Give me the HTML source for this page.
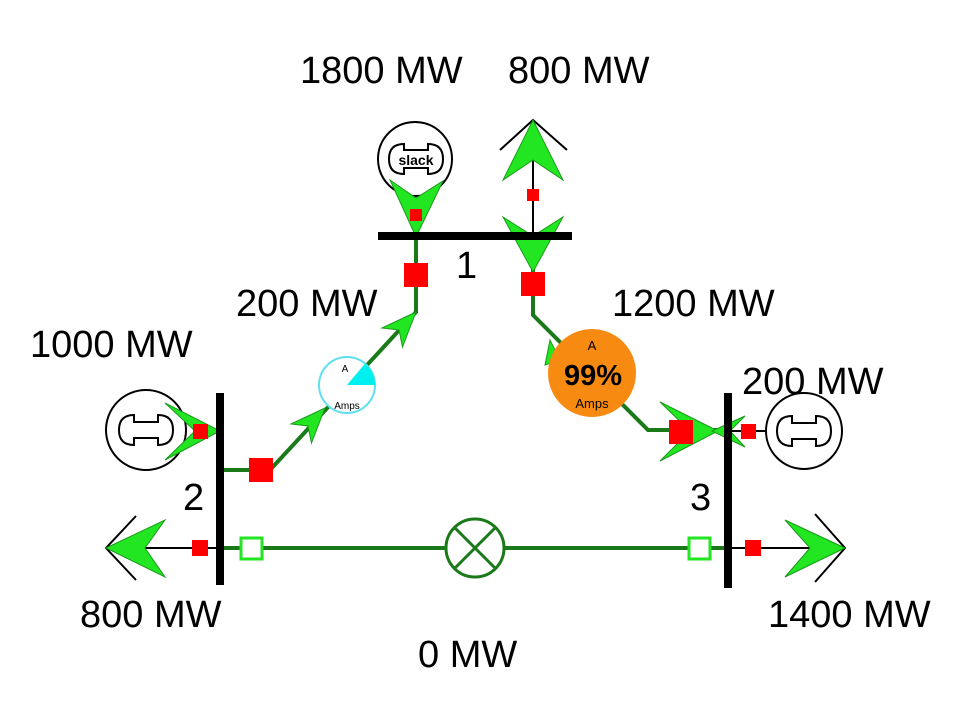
<!DOCTYPE html>
<html><head><meta charset="utf-8"><style>
html,body{margin:0;padding:0;background:#fff;}
svg{display:block;}
text{font-family:"Liberation Sans",sans-serif;}
</style></head><body>
<svg width="972" height="703" viewBox="0 0 972 703" xmlns="http://www.w3.org/2000/svg">
<defs>
<path id="gsym" d="M -12,-15 Q -27,-15 -27,0 Q -27,15 -12,15 L -12,8 L 12,8 L 12,15 Q 27,15 27,0 Q 27,-15 12,-15 L 12,-8 L -12,-8 Z" fill="none" stroke="#000" stroke-width="2"/>
</defs>
<rect width="972" height="703" fill="#fff"/>

<!-- lines -->
<g stroke="#1a7a1a" stroke-width="4" fill="none">
<polyline points="416,236 416,312 270,470 222,470"/>
<polyline points="533,236 533,315 648,430 728,430"/>
<line x1="222" y1="548" x2="728" y2="548"/>
</g>
<!-- black load lines -->
<g stroke="#000" stroke-width="2" fill="none">
<line x1="533" y1="236" x2="533" y2="125"/>
<polyline points="500,150 533,120 567,150"/>
<line x1="220" y1="548" x2="110" y2="548"/>
<polyline points="136,516 106,548 136,580"/>
<line x1="728" y1="548" x2="840" y2="548"/>
<polyline points="815,514 845,548 815,582"/>
<line x1="728" y1="431" x2="770" y2="431"/>
</g>

<!-- generators -->
<circle cx="415" cy="159" r="37" fill="#fff" stroke="#000" stroke-width="2"/>
<path d="M -12,-15 Q -27,-15 -27,0 Q -27,15 -12,15 L -12,9 L 12,9 L 12,15 Q 27,15 27,0 Q 27,-15 12,-15 L 12,-9 L -12,-9 Z" transform="translate(416,159)" fill="none" stroke="#000" stroke-width="2"/>
<text x="416" y="165" font-size="14" font-weight="bold" text-anchor="middle" font-family="DejaVu Sans, sans-serif">slack</text>
<circle cx="146" cy="430" r="40" fill="#fff" stroke="#000" stroke-width="2"/>
<use href="#gsym" transform="translate(146,430)"/>
<circle cx="804" cy="431" r="38" fill="#fff" stroke="#000" stroke-width="2"/>
<use href="#gsym" transform="translate(804,431)"/>

<!-- green arrows -->
<g fill="#22e622" stroke="#1a9a1a" stroke-width="1">
<polygon points="390,180 416,198 443,181 416,237"/>
<polygon points="533,120 563,180 533,160 503,180"/>
<polygon points="503,217 533,236 563,217 533,272"/>
<polygon points="165,403 195,431 165,460 220,431"/>
<polygon points="416,312 402.5,347 399,330 382,328"/>
<polygon points="325,408 311.5,443 308,426 291,424"/>
<polygon points="660,402 690,431 660,461 718,431"/>
<polygon points="745,416 730,431 745,447 712,431"/>
<polygon points="106,548 165,520 145,548 165,577"/>
<polygon points="845,548 785,520 810,548 785,577"/>
<polygon points="550,340 545,365 560,360"/>
</g>

<!-- buses -->
<rect x="378" y="232" width="194" height="8" fill="#000"/>
<rect x="216" y="393" width="8" height="192" fill="#000"/>
<rect x="724" y="393" width="8" height="195" fill="#000"/>

<!-- red squares -->
<g fill="#f00">
<rect x="410" y="209" width="12" height="12"/>
<rect x="527" y="189" width="12" height="12"/>
<rect x="404" y="263" width="24" height="24"/>
<rect x="521" y="272" width="24" height="24"/>
<rect x="249" y="458" width="24" height="24"/>
<rect x="669" y="420" width="24" height="24"/>
<rect x="193" y="424" width="15" height="15"/>
<rect x="741" y="424" width="15" height="15"/>
<rect x="192" y="540" width="16" height="16"/>
<rect x="745" y="540" width="16" height="16"/>
</g>
<!-- open squares -->
<rect x="241" y="538" width="21" height="21" fill="#fff" stroke="#22e622" stroke-width="3"/>
<rect x="689" y="538" width="21" height="21" fill="#fff" stroke="#22e622" stroke-width="3"/>

<!-- series element -->
<circle cx="475" cy="548" r="29" fill="#fff" stroke="#1a7a1a" stroke-width="3"/>
<line x1="454" y1="527" x2="496" y2="569" stroke="#1a7a1a" stroke-width="3"/>
<line x1="496" y1="527" x2="454" y2="569" stroke="#1a7a1a" stroke-width="3"/>

<!-- cyan pie -->
<circle cx="347" cy="385" r="28" fill="#fff" stroke="#5ee0ee" stroke-width="2"/>
<path d="M347,385 L375,385 A28,28 0 0 0 365,363.6 Z" fill="#00f0f0"/>
<text x="345" y="372" font-size="10" text-anchor="middle">A</text>
<text x="347" y="409" font-size="10" text-anchor="middle">Amps</text>

<!-- orange pie -->
<circle cx="592" cy="373" r="44" fill="#f78a10"/>
<text x="592" y="350" font-size="13" text-anchor="middle">A</text>
<text x="593" y="385" font-size="29" font-weight="bold" text-anchor="middle" font-family="DejaVu Sans, sans-serif">99%</text>
<text x="592" y="408" font-size="13" text-anchor="middle">Amps</text>

<!-- labels -->
<g font-size="38" fill="#000">
<text x="300" y="83">1800 MW</text>
<text x="508" y="83">800 MW</text>
<text x="236" y="316">200 MW</text>
<text x="30" y="357">1000 MW</text>
<text x="612" y="316">1200 MW</text>
<text x="742" y="394">200 MW</text>
<text x="80" y="627">800 MW</text>
<text x="768" y="627">1400 MW</text>
<text x="418" y="667">0 MW</text>
<text x="456" y="278">1</text>
<text x="183" y="510">2</text>
<text x="690" y="510">3</text>
</g>
</svg>
</body></html>
